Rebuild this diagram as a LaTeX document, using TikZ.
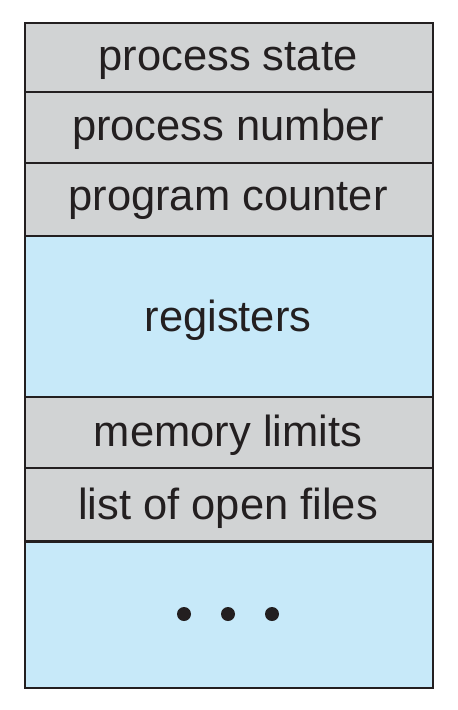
\documentclass[tikz,border=0pt]{standalone}
\usepackage{fontspec}
\setmainfont{Liberation Sans}
\definecolor{rowgray}{HTML}{D1D3D4}
\definecolor{rowblue}{HTML}{C7E9F9}
\definecolor{edge}{HTML}{231F20}
\begin{document}
\begin{tikzpicture}[x=1pt,y=-1pt,
  cell/.style={draw=edge,line width=2pt,minimum width=408pt,inner sep=0pt,anchor=north west},
  grayrow/.style={cell,fill=rowgray},
  bluerow/.style={cell,fill=rowblue},
  lbl/.style={anchor=base,inner sep=0pt,font=\fontsize{43.5}{48}\selectfont,text=edge},
  dot/.style={circle,fill=edge,minimum size=14pt,inner sep=0pt}]
\useasboundingbox (0,0) rectangle (458,710);
\node[grayrow,minimum height=69pt] (r1) at (24,22) {};
\node[grayrow,minimum height=71pt] (r2) at (24,91) {};
\node[grayrow,minimum height=73pt] (r3) at (24,162) {};
\node[bluerow,minimum height=161pt] (r4) at (24,235) {};
\node[grayrow,minimum height=71pt] (r5) at (24,396) {};
\node[grayrow,minimum height=73pt] (r6) at (24,467) {};
\node[bluerow,minimum height=146pt] (r7) at (24,541) {};
\node[lbl] (t1) at (228,70.7) {process state};
\node[lbl] (t2) at (228,140) {process number};
\node[lbl] (t3) at (228,210) {program counter};
\node[lbl] (t4) at (228,331.5) {registers};
\node[lbl] (t5) at (228,446.7) {memory limits};
\node[lbl] (t6) at (228,519) {list of open files};
\node[dot] (d1) at (184,614) {};
\node[dot] (d2) at (228,614) {};
\node[dot] (d3) at (272,614) {};
\end{tikzpicture}
\end{document}
